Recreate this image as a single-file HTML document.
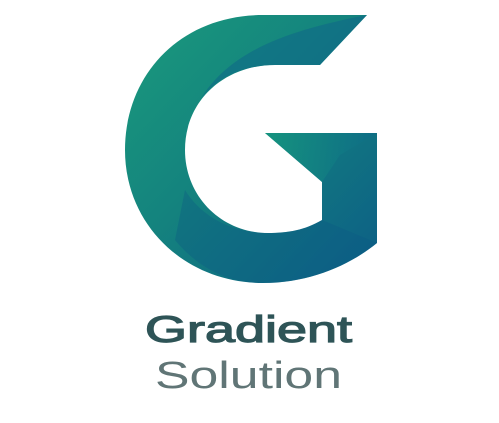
<!DOCTYPE html>
<html><head><meta charset="utf-8"><style>
html,body{margin:0;padding:0;background:#fff;width:499px;height:423px;overflow:hidden}
</style></head><body>
<svg width="499" height="423" viewBox="0 0 499 423">
<defs>
<linearGradient id="g1" x1="0" y1="0" x2="1" y2="1">
<stop offset="0" stop-color="#1a9a7c"/>
<stop offset="0.45" stop-color="#14837e"/>
<stop offset="1" stop-color="#0c5d86"/>
</linearGradient>
<linearGradient id="g2" x1="0" y1="0" x2="1" y2="0">
<stop offset="0" stop-color="#17a07e"/>
<stop offset="1" stop-color="#0d6a88"/>
</linearGradient>
</defs>
<path fill="url(#g1)" d="M367,15 L263,15 C180,15 125,75 125,150 C125,225 185,283 263,283 C310,283 350,265 377,243 L377,133 L265,133 L322,182 L322,220 C305,230 288,233 268,233 C222,233 185,197 185,150 C185,100 225,65 275,65 L320,65 Z"/>
<path fill="#0f6688" opacity="0.55" d="M367,15 L320,65 L275,65 C240,65 215,80 200,100 C230,50 290,30 367,15 Z"/>
<path fill="url(#g2)" opacity="0.6" d="M265,133 L377,133 L340,155 L322,182 Z"/>
<path fill="#0b5a84" opacity="0.35" d="M175,240 C200,270 230,283 263,283 C310,283 350,265 377,243 L322,220 C305,230 288,233 268,233 C230,233 200,215 185,190 Z"/>
<text x="145" y="342" textLength="207" lengthAdjust="spacingAndGlyphs" font-family="Liberation Sans, sans-serif" font-size="37" stroke="#2e5457" stroke-width="1.2" fill="#2e5457">Gradient</text>
<text x="155" y="388" textLength="187" lengthAdjust="spacingAndGlyphs" font-family="Liberation Sans, sans-serif" font-size="38" fill="#607576">Solution</text>
</svg>
</body></html>
